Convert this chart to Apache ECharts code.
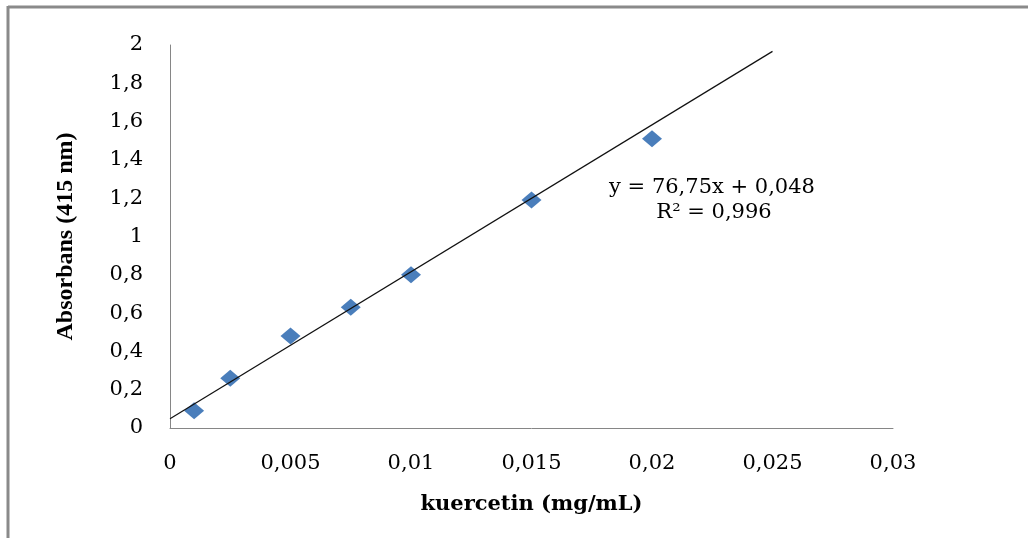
<!DOCTYPE html>
<html>
<head>
<meta charset="utf-8">
<script src="https://cdn.jsdelivr.net/npm/echarts@6/dist/echarts.min.js"></script>
<style>
  html, body { margin: 0; padding: 0; background: #fff; }
  #chart { width: 1028px; height: 538px; }
</style>
</head>
<body>
<div id="chart"></div>
<script>
// Quercetin calibration: concentration (mg/mL) vs absorbance at 415 nm
const concentration = [0.001, 0.0025, 0.005, 0.0075, 0.01, 0.015, 0.02];
const absorbance    = [0.09, 0.26, 0.48, 0.63, 0.80, 1.19, 1.51];

// Linear fit reported on the chart
const slope = 76.75;
const intercept = 0.048;
const rSquared = '0,996';
const fitRange = [0, 0.025];

const equationText = 'y = 76,75x + 0,048';
const r2Text = 'R² = ' + rSquared;
const xTitle = 'kuercetin (mg/mL)';
const yTitle = 'Absorbans (415 nm)';

const fitLine = fitRange.map(x => [x, +(slope * x + intercept).toFixed(5)]);
const points = concentration.map((c, i) => [c, absorbance[i]]);

const commaFmt = v => String(+v.toFixed(4)).replace('.', ',');

const serif = 'DejaVu Serif';
const axisColor = '#868686';

const chart = echarts.init(document.getElementById('chart'), null, { renderer: 'canvas' });
chart.setOption({
  animation: false,
  backgroundColor: '#fff',
  grid: { left: 170, top: 45, right: 135, bottom: 110, containLabel: false },
  xAxis: {
    type: 'value', min: 0, max: 0.03, interval: 0.005,
    name: xTitle, nameLocation: 'middle', nameGap: 66,
    nameTextStyle: { fontFamily: serif, fontWeight: 'bold', fontSize: 21, color: '#000' },
    axisLine: { show: true, lineStyle: { color: axisColor, width: 1 } },
    axisTick: { show: false },
    splitLine: { show: false },
    axisLabel: { formatter: commaFmt, fontFamily: serif, fontSize: 21, color: '#000', margin: 25 }
  },
  yAxis: {
    type: 'value', min: 0, max: 2, interval: 0.2,
    name: yTitle, nameLocation: 'middle', nameGap: 92,
    nameTextStyle: { fontFamily: 'Liberation Serif', fontWeight: 'bold', fontSize: 24, color: '#000' },
    axisLine: { show: true, lineStyle: { color: axisColor, width: 1 } },
    axisTick: { show: false },
    splitLine: { show: false },
    axisLabel: { formatter: commaFmt, fontFamily: serif, fontSize: 21, color: '#000', margin: 27, padding: [6, 0, 0, 0] }
  },
  series: [
    {
      type: 'line', data: fitLine, symbol: 'none', silent: true,
      lineStyle: { color: '#111', width: 1.2 }, z: 3
    },
    {
      type: 'scatter', data: points, symbol: 'diamond', symbolSize: [20, 17],
      itemStyle: { color: '#4a7ebb', opacity: 1 }, z: 2
    }
  ],
  graphic: [
    { type: 'line', shape: { x1: 8, y1: 7, x2: 1028, y2: 7 }, style: { stroke: '#8a8a8a', lineWidth: 3 } },
    { type: 'line', shape: { x1: 8, y1: 6, x2: 8, y2: 538 }, style: { stroke: '#8a8a8a', lineWidth: 3 } },
    { type: 'text', x: 712, y: 188, style: { text: equationText, fontFamily: serif, fontSize: 21, fill: '#000', textAlign: 'center', textVerticalAlign: 'middle' } },
    { type: 'text', x: 714, y: 213, style: { text: r2Text, fontFamily: serif, fontSize: 21, fill: '#000', textAlign: 'center', textVerticalAlign: 'middle' } }
  ]
});
</script>
</body>
</html>
